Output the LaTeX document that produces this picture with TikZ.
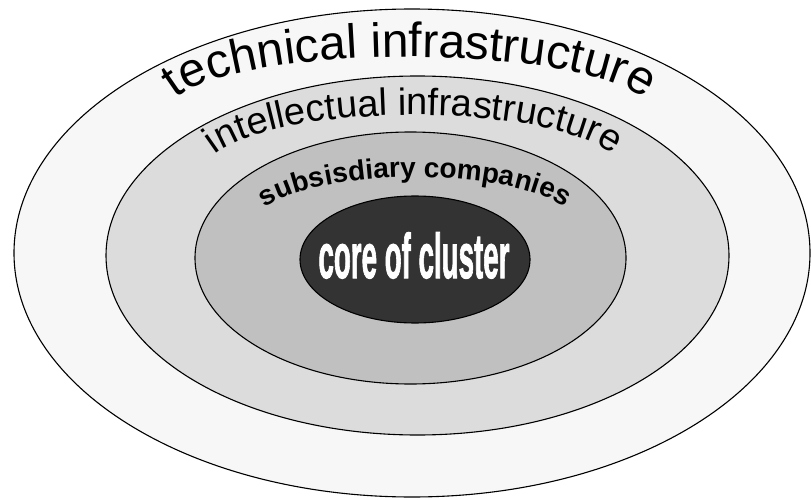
\documentclass[tikz,border=0pt]{standalone}
\usepackage{fontspec}
\setmainfont{Liberation Sans}
\newfontfamily\corefont{Liberation Sans Bold}[FakeBold=2]
\usepackage{graphicx}
\usetikzlibrary{decorations.text}
\definecolor{ringA}{HTML}{F7F7F7}
\definecolor{ringB}{HTML}{DCDCDC}
\definecolor{ringC}{HTML}{C0C0C0}
\definecolor{ringD}{HTML}{333333}
\tikzset{
  ring/.style={draw=black, line width=1.1pt},
  arctext/.style={decorate, decoration={text along path, text align=center, text={#1}}}
}
\begin{document}
\begin{tikzpicture}[x=1pt,y=1pt]
\useasboundingbox (0,0) rectangle (811,499);
% rings
\draw[ring, fill=ringA] (412,246) ellipse [x radius=398, y radius=244];
\draw[ring, fill=ringB] (417.5,243.5) ellipse [x radius=311.5, y radius=179.5];
\draw[ring, fill=ringC] (410.5,241) ellipse [x radius=215.5, y radius=126];
\draw[ring, fill=ringD] (415,239.5) ellipse [x radius=115, y radius=63.5];
% curved labels
\path[arctext={|\fontsize{48}{48}\selectfont|technical infrastructure}]
  (410,386) ++(178:242 and 56) arc[start angle=178, end angle=2, x radius=242, y radius=56];
\path[arctext={|\fontsize{38}{38}\selectfont|intellectual infrastructure}]
  (414,325) ++(178:211 and 59) arc[start angle=178, end angle=2, x radius=211, y radius=59];
\path[arctext={|\bfseries\fontsize{28}{28}\selectfont|subsisdiary companies}]
  (415,271.5) ++(178:163 and 50.5) arc[start angle=178, end angle=2, x radius=163, y radius=50.5];
% core label
\node (core) [anchor=base, inner sep=0pt, text=white, font=\corefont\fontsize{63}{63}\selectfont]
  at (414,221) {\scalebox{0.44}[1]{core of cluster}};
\end{tikzpicture}
\end{document}
